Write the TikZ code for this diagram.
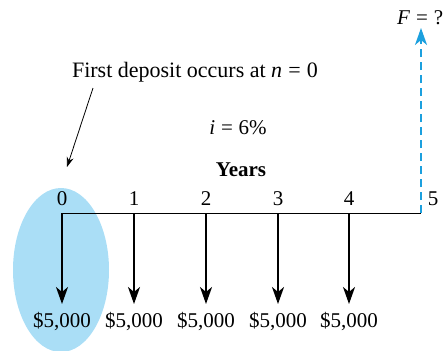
\documentclass[tikz,border=0pt]{standalone}
\usepackage{fontspec}
\setmainfont{Liberation Serif}
\usetikzlibrary{arrows.meta}
\definecolor{ellfill}{RGB}{170,222,246}
\definecolor{dashblue}{RGB}{28,160,222}
\newcommand{\eqsp}{\hspace{0.28em}=\hspace{0.28em}}
\begin{document}
\begin{tikzpicture}[x=1pt,y=-1pt,
  lbl/.style={inner sep=0pt,font=\fontsize{21}{24}\selectfont},
  cash/.style={line width=2pt,-{Stealth[length=17pt,width=12pt,inset=5pt]}},
  tl/.style={line width=1pt}]
\useasboundingbox (0,0) rectangle (445,351);
\fill[ellfill] (61,270) ellipse [x radius=48, y radius=82];
% timeline
\coordinate (t0) at (62,213);
\coordinate (t5) at (421,213);
\draw[tl] (t0) -- (t5);
\foreach \i/\x in {0/62,1/134,2/206,3/278,4/349}{
  \coordinate (c\i) at (\x,213);
  \node[lbl] (n\i) at (\x,199) {\i};
  \node[lbl] (m\i) at (\x,322) {\$5,000};
  \coordinate (e\i) at (\x,304);
  \draw[cash] (c\i) -- (e\i);
}
\node[lbl] (n5) at (433,199) {5};
\coordinate (f1) at (421,28);
\draw[line width=2pt,dashblue,dash pattern=on 8pt off 5pt,-{Stealth[length=17pt,width=12pt,inset=5pt]}] (t5) -- (f1);
\node[lbl,anchor=west] (F) at (397,18) {\textit{F}\eqsp?};
\node[lbl,font=\fontsize{22}{24}\selectfont] (first) at (195,72) {First deposit occurs at \textit{n}\eqsp0};
\coordinate (a1) at (93,88);
\coordinate (a2) at (67,167);
\draw[line width=0.8pt,-{Stealth[length=10pt,width=7pt]}] (a1) -- (a2);
\node[lbl] (i) at (238,128) {\textit{i}\eqsp6\%};
\node[lbl] (years) at (241,170) {\textbf{Years}};
\end{tikzpicture}
\end{document}
